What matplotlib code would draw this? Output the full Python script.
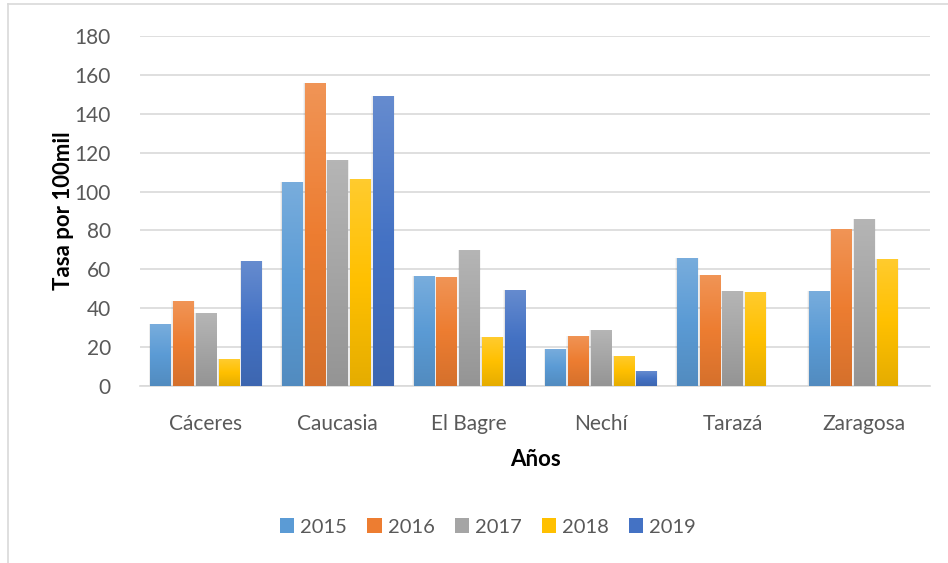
import numpy as np
import matplotlib.pyplot as plt
from matplotlib.lines import Line2D
from matplotlib.colors import LinearSegmentedColormap, to_rgb

municipios = ['Cáceres', 'Caucasia', 'El Bagre', 'Nechí', 'Tarazá', 'Zaragosa']
anios = ['2015', '2016', '2017', '2018', '2019']
tasa_2015 = [31.8, 105.1, 56.7, 19.1, 65.9, 49.0]
tasa_2016 = [43.6, 155.9, 56.2, 25.8, 57.2, 80.9]
tasa_2017 = [37.4, 116.4, 70.0, 28.8, 49.0, 85.9]
tasa_2018 = [13.8, 106.7, 25.2, 15.5, 48.4, 65.4]
tasa_2019 = [64.1, 149.2, 49.4, 7.7, None, None]
series = [tasa_2015, tasa_2016, tasa_2017, tasa_2018, tasa_2019]

colores = ['#5B9BD5', '#ED7D31', '#A5A5A5', '#FFC000', '#4472C4']
texto = '#595959'
fuente = ['Lato', 'DejaVu Sans']
plt.rcParams['font.family'] = fuente


def mezclar(c, otro, t):
    a = np.array(to_rgb(c))
    b = np.array(to_rgb(otro))
    return tuple(a + (b - a) * t)


fig = plt.figure(figsize=(9.48, 5.63), dpi=100)
ax = fig.add_axes([140 / 948, 1 - 386 / 563, 790 / 948, 350 / 563])

x = np.arange(len(municipios))
ancho = 0.152
paso = 0.173
for i, (vals, col) in enumerate(zip(series, colores)):
    v = np.array([np.nan if h is None else h for h in vals], dtype=float)
    barras = ax.bar(x + (i - 2) * paso, v, width=ancho, color=col, zorder=3,
                    label=anios[i])
    cmap = LinearSegmentedColormap.from_list(
        'g%d' % i, [mezclar(col, 'black', 0.10), col, mezclar(col, 'white', 0.18)])
    grad = np.linspace(0, 1, 100).reshape(-1, 1)
    for b in barras:
        h = b.get_height()
        if not np.isfinite(h) or h <= 0:
            continue
        x0 = b.get_x()
        im = ax.imshow(grad, cmap=cmap, origin='lower', aspect='auto',
                       extent=(x0, x0 + b.get_width(), 0, h), zorder=4)
        im.set_clip_path(b)
        # soft shadow on the sides
        for k in range(1, 4):
            ax.bar(x0 + b.get_width() / 2, h, width=ancho + k * 0.008,
                   color='#000000', alpha=0.035, zorder=2, linewidth=0)

ax.set_xlim(-0.5, len(municipios) - 0.5)
ax.set_ylim(0, 180)
ax.set_yticks(range(0, 181, 20))
ax.set_xticks(x)
ax.set_xticklabels(municipios)
ax.grid(axis='y', color='#D9D9D9', linewidth=1.2, zorder=0)
for s in ['top', 'right', 'left']:
    ax.spines[s].set_visible(False)
ax.spines['bottom'].set_color('#D9D9D9')
ax.spines['bottom'].set_linewidth(1.2)
ax.tick_params(axis='both', length=0, labelsize=15, colors=texto)
ax.tick_params(axis='x', pad=20)
ax.tick_params(axis='y', pad=21)

ax.set_xlabel('Años', fontsize=16, fontweight='bold', color='black', labelpad=11)
ax.set_ylabel('Tasa por 100mil', fontsize=16, fontweight='bold', color='black')
ax.yaxis.set_label_coords(-0.084, 0.5)

leg = fig.legend(*ax.get_legend_handles_labels(), loc='center',
                 bbox_to_anchor=(488 / 948, 1 - 527 / 563), ncol=5,
                 frameon=False, fontsize=14.5, handlelength=0.7, handleheight=0.7,
                 handletextpad=0.3, columnspacing=1.0)
for t in leg.get_texts():
    t.set_color(texto)

# chart area border
fig.add_artist(Line2D([8 / 948, 8 / 948], [0, 1 - 4 / 563], color='#D9D9D9', lw=1.2))
fig.add_artist(Line2D([8 / 948, 1], [1 - 4 / 563, 1 - 4 / 563], color='#D9D9D9', lw=1.2))

fig.savefig('out.png', dpi=100)
